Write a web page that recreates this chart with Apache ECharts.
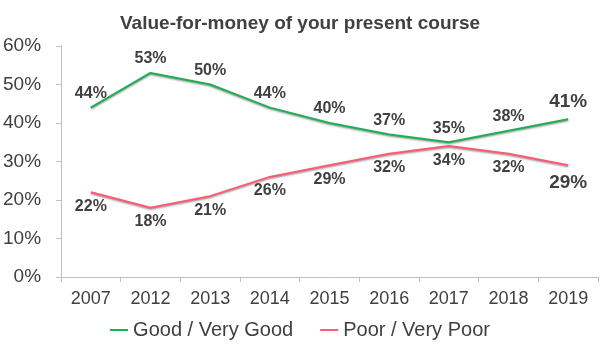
<!DOCTYPE html>
<html><head><meta charset="utf-8">
<script src="https://cdn.jsdelivr.net/npm/echarts@6/dist/echarts.min.js"></script>
<style>html,body{margin:0;padding:0;background:#fff}#c{width:600px;height:350px}</style>
</head><body><div id="c"></div>
<script>
var categories = ['2007','2012','2013','2014','2015','2016','2017','2018','2019'];
var goodValues = [44,53,50,44,40,37,35,38,41];
var poorValues = [22,18,21,26,29,32,34,32,29];
var seriesNames = ['Good / Very Good','Poor / Very Poor'];
var titleText = 'Value-for-money of your present course';

var FONT = "'Liberation Sans', Arial, sans-serif";
var TXT = '#404040';
var chart = echarts.init(document.getElementById('c'));
function lineSeries(name, values, color, pos) {
  var last = values.length - 1;
  var data = values.map(function (v, i) {
    return i === last ? { value: v, label: { fontSize: 19, distance: 8 } } : v;
  });
  return {
    name: name, type: 'line', data: data, symbol: 'circle', symbolSize: 0, showSymbol: true,
    lineStyle: { color: color, width: 2, shadowColor: 'rgba(0,0,0,0.45)', shadowBlur: 2, shadowOffsetY: 1 },
    itemStyle: { color: color },
    label: { show: true, position: pos, distance: 6, formatter: '{c}%', color: TXT,
      fontFamily: FONT, fontWeight: 'bold', fontSize: 16 },
    emphasis: { disabled: true }, animation: false
  };
}
chart.setOption({
  animation: false,
  title: { text: titleText, left: 'center', top: 9,
    textStyle: { fontFamily: FONT, fontWeight: 'bold', fontSize: 19, color: TXT } },
  grid: { left: 58, right: 2, top: 46, bottom: 73 },
  legend: { bottom: 5, left: 'center', itemWidth: 18, itemHeight: 2, itemGap: 27, icon: 'rect',
    textStyle: { fontFamily: FONT, fontSize: 20, color: TXT },
    data: seriesNames },
  xAxis: { type: 'category', data: categories, boundaryGap: true,
    axisLine: { lineStyle: { color: '#bfbfbf' } },
    axisTick: { show: true, length: 5, lineStyle: { color: '#bfbfbf' } },
    axisLabel: { fontFamily: FONT, fontSize: 18, color: TXT, margin: 13 } },
  yAxis: { type: 'value', min: 0, max: 60, interval: 10,
    axisLine: { show: true, lineStyle: { color: '#bfbfbf' } },
    axisTick: { show: true, length: 5, lineStyle: { color: '#bfbfbf' } },
    splitLine: { show: false },
    axisLabel: { formatter: '{value}%', fontFamily: FONT, fontSize: 19, color: TXT, margin: 20 } },
  series: [
    lineSeries(seriesNames[0], goodValues, '#1fae55', 'top'),
    lineSeries(seriesNames[1], poorValues, '#ff5a72', 'bottom')
  ]
});
</script></body></html>
